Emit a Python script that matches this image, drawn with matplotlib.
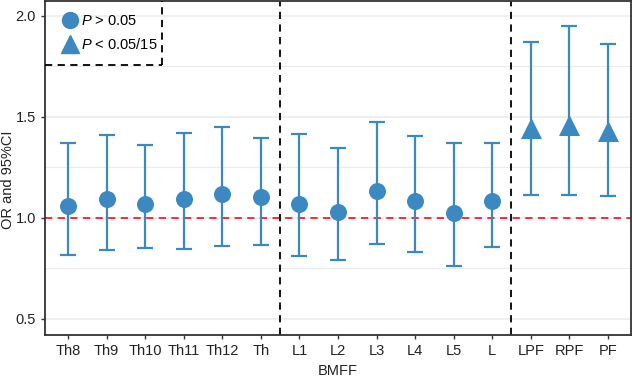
import matplotlib
matplotlib.use("Agg")
import matplotlib.pyplot as plt
from matplotlib.lines import Line2D
import numpy as np

categories = ["Th8", "Th9", "Th10", "Th11", "Th12", "Th",
              "L1", "L2", "L3", "L4", "L5", "L", "LPF", "RPF", "PF"]
or_values = [1.058, 1.093, 1.069, 1.094, 1.117, 1.102,
             1.069, 1.030, 1.134, 1.083, 1.026, 1.086, 1.443, 1.458, 1.430]
ci_lower = [0.817, 0.842, 0.850, 0.847, 0.861, 0.868,
            0.812, 0.792, 0.873, 0.832, 0.761, 0.856, 1.114, 1.114, 1.109]
ci_upper = [1.370, 1.410, 1.361, 1.420, 1.452, 1.395,
            1.416, 1.348, 1.474, 1.403, 1.373, 1.373, 1.873, 1.950, 1.860]
significant = [False] * 12 + [True] * 3

plt.rcParams['font.family'] = ['Liberation Sans', 'DejaVu Sans']
plt.rcParams['mathtext.fontset'] = 'custom'
plt.rcParams['mathtext.it'] = 'Liberation Sans:italic'
plt.rcParams['mathtext.rm'] = 'Liberation Sans'
color = '#3C89C1'

fig = plt.figure(figsize=(6.32, 3.77), dpi=100)
ax = fig.add_axes([45/632, 1 - 335/377, 586/632, 334/377])

x = np.arange(1, len(categories) + 1)
y = np.array(or_values)
lo = np.array(ci_lower)
hi = np.array(ci_upper)

# grid
for g in [0.5, 1.0, 1.5, 2.0]:
    ax.axhline(g, color='#EBEBEB', lw=1.1, zorder=0)
for g in [0.75, 1.25, 1.75]:
    ax.axhline(g, color='#EBEBEB', lw=0.8, zorder=0)

ax.axhline(1.0, color='#F0202A', lw=1.3, ls=(0, (4, 3)), zorder=1)
for v in [6.5, 12.5]:
    ax.axvline(v, color='black', lw=1.3, ls=(0, (4, 3)), zorder=1)

ax.errorbar(x, y, yerr=[y - lo, hi - y], fmt='none', ecolor=color,
            elinewidth=1.6, capsize=6, capthick=1.6, zorder=2)
sig = np.array(significant)
ax.scatter(x[~sig], y[~sig], s=150, marker='o', color=color, zorder=3, linewidths=0)
ax.scatter(x[sig], y[sig], s=230, marker='^', color=color, zorder=3, linewidths=0)

ax.set_xlim(0.4, 15.6)
ax.set_ylim(0.42, 2.074)
ax.set_xticks(x)
ax.set_xticklabels(categories)
ax.set_yticks([0.5, 1.0, 1.5, 2.0])
ax.set_yticklabels(['0.5', '1.0', '1.5', '2.0'])
ax.tick_params(axis='both', labelsize=10.5, colors='#333333', length=3,
               width=1, labelcolor='#222222')
for sp in ax.spines.values():
    sp.set_color('#333333')
    sp.set_linewidth(1.3)

ax.set_xlabel('BMFF', fontsize=10.5, color='#222222', labelpad=4)
fig.text(8/632, 1 - 180/377, 'OR and 95%CI', rotation=90, fontsize=10.5,
         color='#222222', ha='center', va='center')

# legend box with dashed border
ax.plot([0.4, 3.43], [1.757, 1.757], color='black', lw=1.3, ls=(0, (4, 3)),
        zorder=4, clip_on=False)
ax.plot([3.43, 3.43], [1.757, 2.074], color='black', lw=1.3, ls=(0, (4, 3)),
        zorder=4, clip_on=False)
handles = [Line2D([], [], marker='o', ls='none', color=color, markersize=11.5),
           Line2D([], [], marker='^', ls='none', color=color, markersize=13)]
labels = [r'$\it{P}$ > 0.05', r'$\it{P}$ < 0.05/15']
leg = ax.legend(handles, labels, loc='upper left', bbox_to_anchor=(0.0, 1.0),
                frameon=False, fontsize=10.5, handletextpad=0.0,
                borderaxespad=0.5, labelspacing=0.6, handlelength=1.6)

fig.savefig('out.png', dpi=100)
